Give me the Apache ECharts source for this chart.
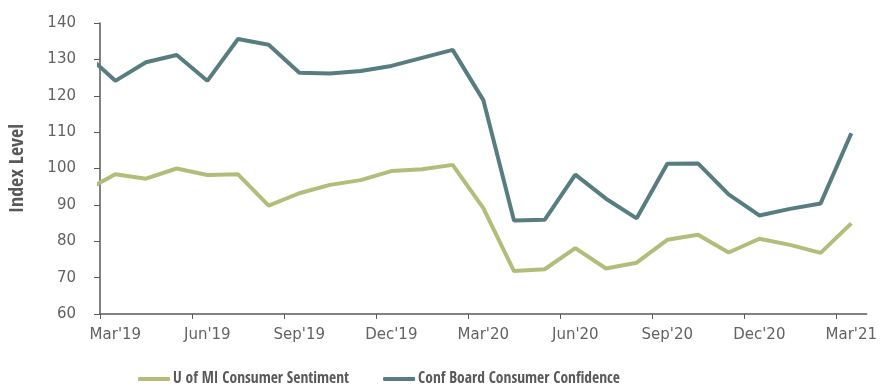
<!DOCTYPE html>
<html>
<head>
<meta charset="utf-8">
<script src="https://cdn.jsdelivr.net/npm/echarts@6/dist/echarts.min.js"></script>
<style>html,body{margin:0;padding:0;background:#fff}#c{width:880px;height:386px}</style>
</head>
<body>
<div id="c"></div>
<script>
// Months Feb'19 .. Mar'21 (Feb'19 lies just before the axis start and is clipped)
const months = ["Feb'19","Mar'19","Apr'19","May'19","Jun'19","Jul'19","Aug'19","Sep'19","Oct'19","Nov'19","Dec'19",
  "Jan'20","Feb'20","Mar'20","Apr'20","May'20","Jun'20","Jul'20","Aug'20","Sep'20","Oct'20","Nov'20","Dec'20",
  "Jan'21","Feb'21","Mar'21"];
const umich = [93.8,98.4,97.2,100.0,98.2,98.4,89.8,93.2,95.5,96.8,99.3,99.8,101.0,89.1,71.8,72.3,78.1,72.5,74.1,80.4,81.8,76.9,80.7,79.0,76.8,84.9];
const confBoard = [131.8,124.1,129.2,131.2,124.1,135.6,134.0,126.3,126.1,126.8,128.2,130.4,132.6,118.8,85.7,85.9,98.3,91.7,86.3,101.3,101.4,92.9,87.1,88.9,90.4,109.7];
const tickLabels = ["Mar'19","Jun'19","Sep'19","Dec'19","Mar'20","Jun'20","Sep'20","Dec'20","Mar'21"];
const seriesNames = ["U of MI Consumer Sentiment","Conf Board Consumer Confidence"];
const yTitle = "Index Level";

// month index i (0 = Feb'19) placed at centre of its month band: x = i - 0.5 (Mar'19 band = [0,1])
const toPts = arr => arr.map((v, i) => [i - 0.5, v]);
const labelPos = tickLabels.map((_, k) => 3 * k + 0.5);
const tickPos = tickLabels.map((_, k) => 3 * k);

const axisColor = '#595959';
const labelColor = '#626262';
const boldFont = "'Open Sans Condensed','Roboto Condensed',sans-serif";
const tickFont = "'DejaVu Sans',sans-serif";
const chart = echarts.init(document.getElementById('c'));
chart.setOption({
  animation: false,
  grid: { left: 97, right: 12, top: 23, bottom: 72, containLabel: false },
  legend: {
    top: 366, left: 133, itemGap: 34, itemWidth: 32, itemHeight: 4,
    icon: 'roundRect',
    textStyle: { color: axisColor, fontFamily: boldFont, fontWeight: 'bold', fontSize: 15.5, padding: [0, 0, 0, -2] },
    data: seriesNames
  },
  xAxis: {
    type: 'value', min: 0, max: 25,
    axisLine: { show: true, lineStyle: { color: axisColor, width: 1.5 } },
    axisTick: { show: true, customValues: tickPos, length: 5, inside: false, lineStyle: { color: axisColor } },
    splitLine: { show: false },
    axisLabel: {
      customValues: labelPos, color: labelColor, fontFamily: tickFont, fontSize: 15, margin: 14,
      formatter: v => tickLabels[Math.round((v - 0.5) / 3)]
    }
  },
  yAxis: {
    type: 'value', min: 60, max: 140, interval: 10,
    name: yTitle, nameLocation: 'middle', nameGap: 72, nameRotate: 90,
    nameTextStyle: { color: axisColor, fontFamily: boldFont, fontWeight: 'bold', fontSize: 20 },
    axisLine: { show: true, lineStyle: { color: axisColor, width: 1.5 } },
    axisTick: { show: true, length: 6, lineStyle: { color: axisColor } },
    splitLine: { show: false },
    axisLabel: { color: labelColor, fontFamily: tickFont, fontSize: 15, margin: 24 }
  },
  series: [
    { name: seriesNames[0], type: 'line', data: toPts(umich), showSymbol: false, clip: true,
      lineStyle: { color: '#b1bd79', width: 4 }, itemStyle: { color: '#b1bd79' } },
    { name: seriesNames[1], type: 'line', data: toPts(confBoard), showSymbol: false, clip: true,
      lineStyle: { color: '#587d80', width: 4 }, itemStyle: { color: '#587d80' } }
  ]
});
</script>
</body>
</html>
